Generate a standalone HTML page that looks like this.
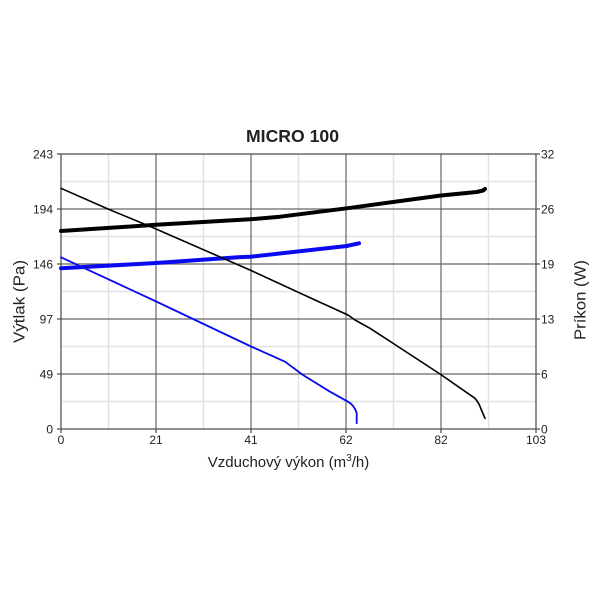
<!DOCTYPE html>
<html>
<head>
<meta charset="utf-8">
<style>
html,body{margin:0;padding:0;background:#fff;}
svg{display:block;}
text{font-family:"Liberation Sans",Arial,sans-serif;fill:#222;}
</style>
</head>
<body>
<svg width="600" height="600" viewBox="0 0 600 600" xmlns="http://www.w3.org/2000/svg">
<rect width="600" height="600" fill="#fff"/>
<!-- minor grid -->
<g stroke="#e2e2e2" stroke-width="1.5">
<line x1="108.5" y1="154" x2="108.5" y2="429"/>
<line x1="203.5" y1="154" x2="203.5" y2="429"/>
<line x1="298.5" y1="154" x2="298.5" y2="429"/>
<line x1="393.5" y1="154" x2="393.5" y2="429"/>
<line x1="488.5" y1="154" x2="488.5" y2="429"/>
<line x1="61" y1="181.5" x2="536" y2="181.5"/>
<line x1="61" y1="236.5" x2="536" y2="236.5"/>
<line x1="61" y1="291.5" x2="536" y2="291.5"/>
<line x1="61" y1="346.5" x2="536" y2="346.5"/>
<line x1="61" y1="401.5" x2="536" y2="401.5"/>
</g>
<!-- major grid -->
<g stroke="#666" stroke-width="1.2">
<line x1="156" y1="154" x2="156" y2="429"/>
<line x1="251" y1="154" x2="251" y2="429"/>
<line x1="346" y1="154" x2="346" y2="429"/>
<line x1="441" y1="154" x2="441" y2="429"/>
<line x1="61" y1="209" x2="536" y2="209"/>
<line x1="61" y1="264" x2="536" y2="264"/>
<line x1="61" y1="319" x2="536" y2="319"/>
<line x1="61" y1="374" x2="536" y2="374"/>
</g>
<!-- frame and ticks -->
<g stroke="#555" stroke-width="1.3" fill="none">
<rect x="61" y="154" width="475" height="275"/>
<line x1="57" y1="154" x2="61" y2="154"/><line x1="57" y1="209" x2="61" y2="209"/><line x1="57" y1="264" x2="61" y2="264"/><line x1="57" y1="319" x2="61" y2="319"/><line x1="57" y1="374" x2="61" y2="374"/><line x1="57" y1="429" x2="61" y2="429"/>
<line x1="536" y1="154" x2="540" y2="154"/><line x1="536" y1="209" x2="540" y2="209"/><line x1="536" y1="264" x2="540" y2="264"/><line x1="536" y1="319" x2="540" y2="319"/><line x1="536" y1="374" x2="540" y2="374"/><line x1="536" y1="429" x2="540" y2="429"/>
<line x1="61" y1="429" x2="61" y2="433"/><line x1="156" y1="429" x2="156" y2="433"/><line x1="251" y1="429" x2="251" y2="433"/><line x1="346" y1="429" x2="346" y2="433"/><line x1="441" y1="429" x2="441" y2="433"/><line x1="536" y1="429" x2="536" y2="433"/>
</g>
<!-- series -->
<g fill="none" stroke-linejoin="round" stroke-linecap="round">
<path d="M61,231 L156,224.8 L250,219.3 L280,216.7 L346.7,208.3 L441,195.5 L476.7,192 L483,190.5 L485,189" stroke="#000" stroke-width="4"/>
<path d="M61,268.3 L156,263 L238,257.3 L250,256.8 L346.7,246 L359,243.3" stroke="#0a0af0" stroke-width="4"/>
<path d="M61,188.3 L108,209 L152,227.3 L250,270 L315,300 L348,315 L355,320 L370,328.3 L440,374 L475,398.3 Q479,403 481,409 L485,418.3" stroke="#000" stroke-width="1.6"/>
<path d="M61,257.3 L153,300 L250,346 L285,361.7 L303,375 L330,391.7 L348,401.7 Q354,405 356.7,413 L356.7,423.3" stroke="#0a0af0" stroke-width="1.8"/>
</g>
<!-- title -->
<text x="292.5" y="142" font-size="17.5" font-weight="bold" text-anchor="middle" fill="#111" textLength="93" lengthAdjust="spacingAndGlyphs">MICRO 100</text>
<!-- left tick labels -->
<g font-size="12" text-anchor="end">
<text x="53" y="158.5">243</text>
<text x="53" y="213.5">194</text>
<text x="53" y="268.5">146</text>
<text x="53" y="323.5">97</text>
<text x="53" y="378.5">49</text>
<text x="53" y="433.5">0</text>
</g>
<!-- right tick labels -->
<g font-size="12" text-anchor="start">
<text x="541" y="158.5">32</text>
<text x="541" y="213.5">26</text>
<text x="541" y="268.5">19</text>
<text x="541" y="323.5">13</text>
<text x="541" y="378.5">6</text>
<text x="541" y="433.5">0</text>
</g>
<!-- bottom tick labels -->
<g font-size="12" text-anchor="middle">
<text x="61" y="444">0</text>
<text x="156" y="444">21</text>
<text x="251" y="444">41</text>
<text x="346" y="444">62</text>
<text x="441" y="444">82</text>
<text x="536" y="444">103</text>
</g>
<!-- axis titles -->
<text x="288.5" y="467" font-size="15" text-anchor="middle">Vzduchový výkon (m<tspan font-size="10" dy="-6">3</tspan><tspan dy="6">/h)</tspan></text>
<text transform="translate(24.5,301.5) rotate(-90)" font-size="16" text-anchor="middle" textLength="83" lengthAdjust="spacingAndGlyphs">Výtlak (Pa)</text>
<text transform="translate(585.5,300) rotate(-90)" font-size="16" text-anchor="middle" textLength="80" lengthAdjust="spacingAndGlyphs">Príkon (W)</text>
</svg>
</body>
</html>
